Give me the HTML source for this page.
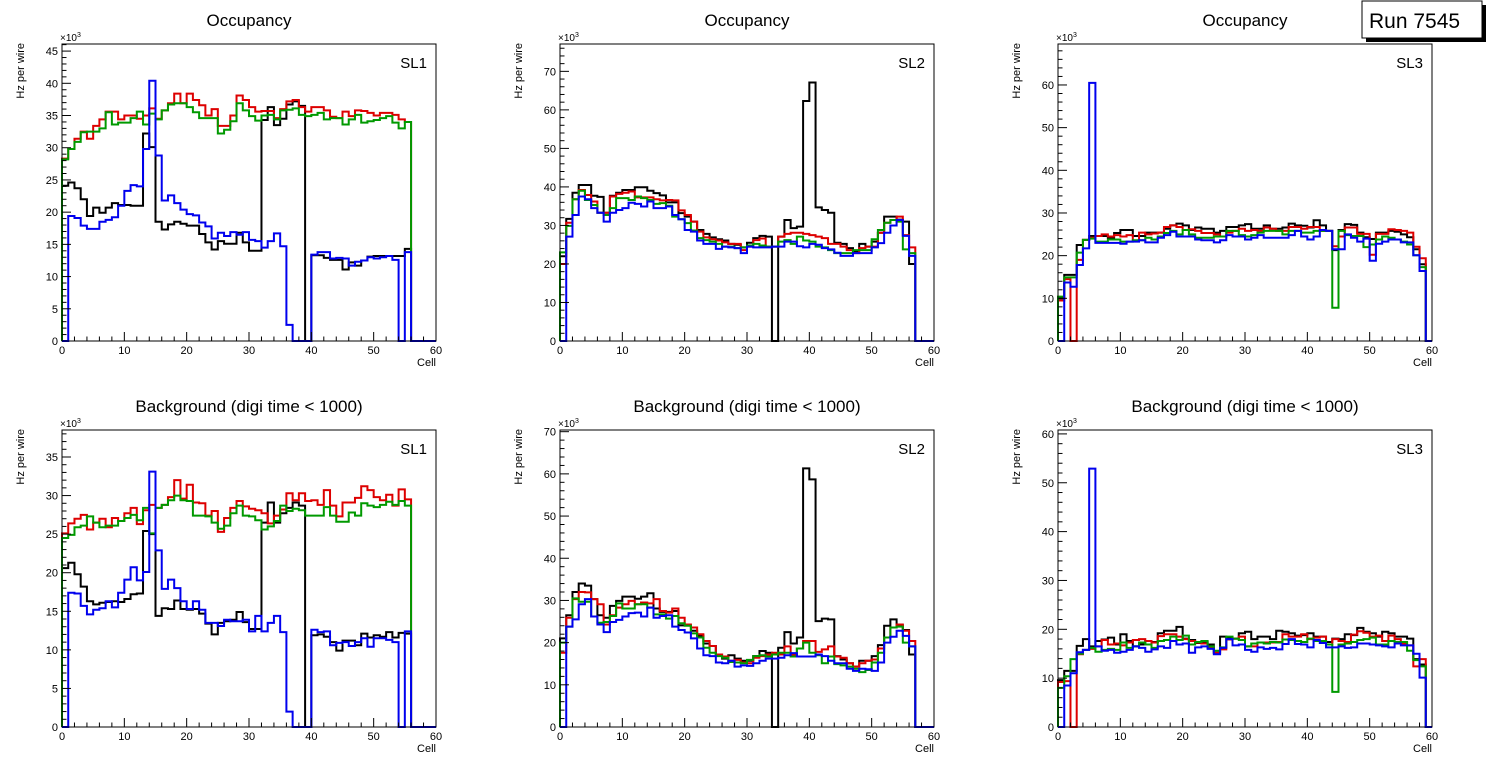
<!DOCTYPE html>
<html><head><meta charset="utf-8"><title>Occupancy</title>
<style>html,body{margin:0;padding:0;background:#fff;}svg{display:block;font-family:"Liberation Sans",Arial,sans-serif;}</style>
</head><body>
<svg id="chart" width="1496" height="772" viewBox="0 0 1496 772" xmlns="http://www.w3.org/2000/svg">
<rect x="0" y="0" width="1496" height="772" fill="#fff"/>
<g>
<rect x="1366" y="5" width="120" height="37" fill="#000"/>
<rect x="1362" y="1" width="120" height="37" fill="#fff" stroke="#000" stroke-width="1"/>
<text x="1369" y="28" font-size="21" fill="#000">Run 7545</text>
</g>
</svg>
<script>
// ---- data (values in units of 10^3 Hz per wire), bins of width 1 cell starting at 0 ----
const binCategories = [0,1,2,3,4,5,6,7,8,9,10,11,12,13,14,15,16,17,18,19,20,21,22,23,24,25,26,27,28,29,30,31,32,33,34,35,36,37,38,39,40,41,42,43,44,45,46,47,48,49,50,51,52,53,54,55,56,57,58,59];
const xTicks = [0,10,20,30,40,50,60];

const occSL1Black = [24.1,24.6,23.7,22,19.4,20.7,19.9,20.7,21.4,21.1,21.1,21,21,32.2,30.1,18.5,17.3,18.1,18.5,18.2,17.9,17.9,16.6,15.3,14.2,15.5,15.1,15.1,16.8,15.3,14,14,34.3,36.3,33.5,34.5,36.7,37.2,36.5,0,13.3,13.3,12.9,12.6,12.6,11.1,12.2,11.7,12.5,13.1,13.2,13.2,13.2,13.2,13.2,14.3];
const occSL1Red = [28.3,29.8,31.4,32.5,31.4,33.4,34.4,35.6,35.6,34.4,35,35,34.5,35,36.1,34.5,35.8,36.9,38.4,36.9,38.4,37.4,36.6,35,36,33.4,33.4,35,38.1,37.4,36.3,35.6,35.7,35.7,34.6,36,37.2,37.4,36.3,35.6,36.3,36.3,35.8,34.8,34.6,35.6,34.9,35.8,35.7,35.4,35,35.4,35.4,35.1,34.4,34];
const occSL1Green = [28.2,29.8,30.9,32.4,32.5,32.5,33,35.5,33.6,33.9,33.9,34.6,35.6,33.6,35.3,34.4,35.8,36.7,36.9,36.9,36.3,35.5,34.6,34.6,34.6,32.2,32.8,34.1,36.9,35.8,34.9,34.2,35,35.1,34.4,35.8,35.9,36.1,35.1,34.9,35.1,35.4,34.4,34.6,34.6,33.6,34.4,35.1,33.9,34.1,34.3,34.6,34.9,33.9,33,34];
const occSL1Blue = [0,19.4,19.1,17.9,17.4,17.4,18.5,18.8,19.2,21,23.3,24.2,24,29.8,40.4,28.8,21.8,22.6,21.4,20.4,19.7,19.5,18.4,17.8,15.9,16.8,16.3,16.9,16.5,16.9,15.7,15.5,14.5,15.5,16.7,14.7,2.5,0,0,0,13.4,13.8,13.8,12.8,12.9,12.8,11.7,12.3,12.5,13,12.8,13,13.2,12.6,0,13.8];

const occSL2Black = [22,31.7,38.5,40.5,40.5,37.7,37.4,33.3,37.7,38.5,39.2,39.2,39.9,39.9,39,38.4,37.8,36,36,33.2,32.3,31,28.8,27.8,26.9,26.4,26.1,25.2,25,24.3,25.5,26.7,27.3,27.1,0,27.1,31.4,29.3,29.7,62.3,67.1,34.7,34,33.3,25.5,25.2,24.1,23.2,25.2,24.5,25.8,28.1,32.3,32.3,31.5,31,20];
const occSL2Red = [20,30.7,36.8,39.2,37.9,36.2,33.3,33.3,37.5,38.2,38.5,38.8,37.3,37.3,37.3,36.8,36.5,36.6,36.5,33.9,32.7,31,28.4,26.9,26.4,26.1,25.6,25.2,25.2,23.6,24.5,26.2,26.6,24.5,24.5,27.1,27.8,28.1,28.1,27.8,27.5,27.1,26.7,25.2,25.2,24.5,23.6,22.8,24.1,24.5,24.5,28.1,30.7,31.4,32.3,27.5,24.3];
const occSL2Green = [23,29.9,36.8,39,36.6,35.3,33.3,32.7,34.5,37.1,37.1,36.6,37.5,37.1,36.6,35.6,35.8,35.1,32.3,31.6,30.6,28.7,26.7,26.2,25.8,25.2,24.5,24.5,24.1,24.3,24.8,25.2,24.8,24.5,24.5,25.8,26.2,25.2,27.1,26.1,25.8,24.5,24.3,23.6,22.8,22.8,22.8,23.6,23.6,23.6,26.4,28.8,30.7,31.4,31,23.8,22.8];
const occSL2Blue = [0,27.1,32.7,37.5,36.8,34.5,33.3,31,33.3,34,34.5,35.9,35.6,34.9,36.2,34.5,34.5,34.9,32.7,31.6,28.8,28.4,26.1,25.2,25.2,23.9,24.5,24.3,24.1,22.8,24.5,24.3,24.3,24.3,24.5,24.5,25.8,25.8,24.6,24.3,25.2,25,24.1,23.8,22.9,22.1,22.1,22.8,22.8,22.8,24.3,25.4,28.1,30,31.4,27.3,22.1];

const occSL3Black = [10,15.5,15.5,22.5,23.7,24.6,24.6,24.6,24.2,25.3,26,26,24.6,24.6,25.4,25.4,25.4,26.3,27.1,27.5,27.1,26,26.6,26.3,26.3,25.4,25.8,26.7,26.7,27.1,27.4,26.3,26.3,27.1,26.3,26.3,26.6,27.5,27.1,27,26.6,28.3,27.1,25.8,21.3,26,27.4,27.2,25.4,24.3,23.9,25.4,25.4,25.8,25.6,25,24.3,21.5,18,0];
const occSL3Red = [9.5,14.5,0,19,23.7,24.2,24.6,25,24.5,24.8,24.5,24.8,23.5,25.4,25,25.2,25.4,26.7,27.1,26.7,26,26.2,25.8,25.3,25.3,25,24.5,25.4,25.8,26.3,25.8,26,25.8,26.6,26.3,25.8,25.8,26.7,26.7,26.3,26.7,26.7,25.8,25.8,22.2,24.5,26.6,26.6,25.1,25.1,20.2,25.1,25.1,26.2,26,25.8,25.4,22.1,19.4,0];
const occSL3Green = [10.4,14.9,14.9,20.7,23.7,24,23.3,23.3,23.8,23.8,23.3,23.3,23.6,23.6,24.2,23.8,24.5,25.3,25.8,25,26,25,24.2,24.2,24.2,24.5,24.5,25.8,25.8,24.8,24.5,24.8,25.4,25.8,25.8,25.8,25,25.8,25.8,25.4,25.4,25.8,25.8,25.8,7.8,25.8,24.8,24.6,24.6,22,22.6,23.8,24.5,24.2,23.8,23.3,22.6,20.1,17.3,0];
const occSL3Blue = [0,13.7,12.7,17.8,21.7,60.5,23,23,23,23,22.8,23.3,23.3,23.6,23.1,23.1,24.2,24.8,25.6,24.5,24.5,24.5,23.8,23.6,23.6,23.1,23.6,24.8,24.5,24.5,23.8,24.2,24.8,24.2,24.2,24.2,24.2,24.8,25.8,24.5,23.8,24.5,26,25.8,21.5,21.5,25,24.2,23.3,24,18.8,22.8,23.3,23.8,23.8,23.1,23.1,20.1,16.4,0];

const bkgSL1Black = [20.6,21.3,19.8,18.2,16.3,15.9,16.1,16.2,16.3,16.2,16.6,17.2,17.3,25.4,25,14.4,15.4,15.3,16.4,15.3,15.2,15.3,14.7,13.4,12,13.5,13.7,13.9,14.9,13.6,12.7,12.7,26.5,29.1,26.5,27.7,28.4,29.1,28.7,0,11.9,12,11.7,11,9.9,11.2,11.2,10.6,12.1,11.6,11.9,11.7,12.3,11.6,12.2,12.1];
const bkgSL1Red = [25.1,26.4,27,27.5,25.6,26.5,27,25.9,27.1,26.7,27.7,28.4,26.3,28.1,28.8,28.4,28.8,29.8,32,29.6,31.4,29.1,29,27.4,28,25.3,27.1,28.4,29.3,28.6,28.3,28.1,27.7,26.4,27.4,28.2,30.3,29.4,30.3,29.3,29.4,28.8,30.7,28.7,27.3,29.1,29.1,29.7,31.2,30.7,29.8,29.4,30.1,28.7,30.8,29.5];
const bkgSL1Green = [24.5,24.9,25.9,26.1,27.3,26.5,25.9,26.1,26.1,26.7,27.1,27.5,26.8,28.4,25.1,28.4,28.8,29.4,30,29.4,29.3,27.4,27.4,27.3,26.5,25.7,26.1,27.7,28.7,27.4,27.3,26.8,25.6,26,26.7,28.7,28,28.3,28.1,27.4,27.4,27.4,28.5,27.4,26.6,26.6,27.8,27.4,29,28.7,28.5,28.8,29.2,28.8,29.3,28.7];
const bkgSL1Blue = [0,17.4,17.3,15.7,14.6,15.2,15.4,16.3,15.5,17.4,19.1,20.7,19,20.1,33.1,22.9,17.9,19.1,18,16.3,15.3,16.3,15.2,13.5,13.5,13.1,13.9,13.7,13.7,13.9,12.4,14.4,12.4,13.5,14.4,12.3,2,0,0,0,12.6,12.3,12.4,10.6,10.9,11,10.5,11,11.5,10.4,11.5,11.5,11.3,11,0,12.4];

const bkgSL2Black = [21,26.5,32,34,33.5,30.3,26.5,25.9,28.7,29.9,30.9,30.9,30.4,30.9,31.7,28.1,27.3,27.3,27.5,24.1,24.1,22.8,21.7,19.8,19.2,17.2,16.2,17,16.2,15.7,15.7,16.8,18,17.6,0,18.8,22.5,19.8,21.2,61.3,58.7,25.1,25.7,25.5,16.8,16,15.1,14.3,15.7,15.7,16.8,19.4,24,25.5,24.1,23,17.2];
const bkgSL2Red = [17.6,25.9,30.3,32,31.9,30.3,29.1,24.3,26.5,28.3,29.1,29.9,29.1,29.5,29.3,30.3,27.5,27.1,28.1,25.9,24.3,23.6,22,20.4,19.2,17.2,16.7,15.7,15.9,15.3,15.1,16.4,16.8,17.2,17.6,17.2,19.1,17.2,18.6,20.4,20.4,17.8,18.4,19.1,16.7,16.4,15.1,14.3,15.1,15.7,16,18.6,21.2,23.6,24.3,22.8,20.4];
const bkgSL2Green = [20,23.8,30.5,29.7,29.7,26.2,24.7,24.9,26.3,29.3,28.1,28.1,29.1,29.1,28.3,26.7,26.7,25.7,26.3,24.6,24,22.2,21.2,18.8,17.6,16.8,16.4,15.4,15.3,15.1,15.9,16.8,17,16.7,17.2,17.6,17.6,16.7,18.6,20,17.6,17,15.1,16.7,14.9,14.6,14.3,13.8,13,13.5,15.3,17.6,21.2,23.6,23.8,20,19.1];
const bkgSL2Blue = [0,23.8,25.5,29.1,30.3,26.2,24.3,22.5,24.9,25.4,26.2,27,27.1,26.2,28.3,25.9,26.3,26.5,23.8,23,22.4,21,18.6,17,16.8,15.3,15.1,15.7,14.3,14.6,14.5,15.1,15.7,16.2,16.2,16.4,17,17.5,16.7,16.7,16.7,17.2,16.8,15.7,15.1,15.1,13.8,13.3,13.8,13.7,13.3,15.3,20,21.4,22.8,21.6,19.1];

const bkgSL3Black = [9.6,11.5,11.5,16.6,18,16.5,17.6,17.9,18.3,16.9,19,17.6,16.5,16.9,17.6,17.4,19.2,19.7,19.7,20.5,18.1,17.8,17.2,17.4,16.9,15.2,18.5,18.3,18.1,19.2,19.5,18,18.5,18.5,18,19.7,19.5,19.2,18.7,18.8,19.2,18.5,18.5,17.4,18.1,18,19,18.8,20.3,19.5,19.2,18.5,19.5,19.2,18.5,18.5,18.1,13.9,12.8,0];
const bkgSL3Red = [9.2,9.4,0,14.9,15.8,16,16.5,17.8,16.9,17.1,16.7,17.3,17.8,18,17.6,17.3,18.6,19,19,18.5,18,17.6,17.3,17.1,16.2,15.2,15.9,17.9,18.1,18.5,16.5,16.5,17.3,17.3,17.3,17.4,19,18.5,18.5,19,18,18.3,18.5,16.9,18,17.6,17.4,18.9,19.6,19.3,18.5,18.7,17.6,18.7,18,17.1,16.7,12.4,13.9,0];
const bkgSL3Green = [8,10.4,13.9,15,15.8,16.2,15.4,15.8,16,15.8,17.3,16.2,16.5,17.3,16.9,16.2,17.6,17.8,18.5,17.8,18.7,16.9,17.4,17.6,16.5,15.6,16.3,18.5,18.1,17.8,16.5,17.1,17.3,17.1,17.4,17.3,17.9,17.8,17.6,17.4,18.1,17.6,17.6,16.9,7.2,16.9,17.1,17.4,17.8,18,18.3,16.9,16.9,17.6,17.4,17.4,15.6,13.7,12.4,0];
const bkgSL3Blue = [0,8.5,11,15.3,15.8,52.9,16.5,15.6,15.8,15.2,15.4,15.8,16.5,16.2,15.4,15.9,16.5,16.2,17.6,16.9,17.1,15.2,16.3,16.5,16,14.9,16.2,18,16.7,16.9,15.8,15.4,16.3,16,16.2,15.9,17,18,17,16.9,16.3,17.8,17.2,16.3,16.3,16.5,16.2,16.3,17.1,17.1,16.9,16.7,16.5,16.3,17.1,16.7,16.7,15,10.1,0];

const panelTitles = ["Occupancy","Occupancy","Occupancy","Background (digi time < 1000)","Background (digi time < 1000)","Background (digi time < 1000)"];
const panelLabels = ["SL1","SL2","SL3","SL1","SL2","SL3"];
const panelYMax = [46.1,77.1,69.6,38.5,70.4,60.8];
const panelYMajor = [5,10,10,5,10,10];
const panelSeries = [
  [occSL1Black,occSL1Red,occSL1Green,occSL1Blue],
  [occSL2Black,occSL2Red,occSL2Green,occSL2Blue],
  [occSL3Black,occSL3Red,occSL3Green,occSL3Blue],
  [bkgSL1Black,bkgSL1Red,bkgSL1Green,bkgSL1Blue],
  [bkgSL2Black,bkgSL2Red,bkgSL2Green,bkgSL2Blue],
  [bkgSL3Black,bkgSL3Red,bkgSL3Green,bkgSL3Blue]
];
const seriesNames = ["black","red","green","blue"];

// ---- layout / style ----
const seriesColors = ["#000000","#dd0000","#009900","#0000ee"];
const NS = "http://www.w3.org/2000/svg";
const svg = document.getElementById("chart");
const runBox = svg.lastElementChild;
const PW = 374, PH = 297, XMAX = 60;
const lefts = [62,560,1058];
const tops = [44,430];

function mk(tag, attrs, parent){
  const e = document.createElementNS(NS, tag);
  for (const k in attrs) e.setAttribute(k, attrs[k]);
  (parent||svg).appendChild(e);
  return e;
}

panelSeries.forEach((series, p) => {
  const L = lefts[p % 3], T = tops[Math.floor(p / 3)], B = T + PH;
  const ymax = panelYMax[p], major = panelYMajor[p], minor = major / 5;
  const xs = v => L + v / XMAX * PW;
  const ys = v => B - v / ymax * PH;
  const g = mk("g", {});
  
  

  const title = mk("text", {x: L + PW / 2, y: T - 18, "font-size": 17, "text-anchor": "middle"}, g);
  title.textContent = panelTitles[p];
  
  

  series.forEach((vals, s) => {
    let d = "M" + xs(0) + "," + ys(0);
    for (let i = 0; i < binCategories.length; i++) {
      const v = i < vals.length ? vals[i] : 0;
      d += " L" + xs(binCategories[i]).toFixed(2) + "," + ys(v).toFixed(2) + " L" + xs(binCategories[i] + 1).toFixed(2) + "," + ys(v).toFixed(2);
    }
    d += " L" + xs(XMAX) + "," + ys(0);
    const path = mk("path", {d: d, fill: "none", stroke: seriesColors[s], "stroke-width": 2, "stroke-linejoin": "miter"}, g);
    
    
  });

  const frame = mk("rect", {x: L, y: T, width: PW, height: PH, fill: "none", stroke: "#000", "stroke-width": 1}, g);
  
  

  const xAxis = mk("g", {}, g);
  
  
  for (let v = 0; v <= XMAX + 1e-9; v += 2) {
    const isMajor = Math.abs(v % 10) < 1e-9;
    mk("line", {x1: xs(v), x2: xs(v), y1: B, y2: B - (isMajor ? 9 : 4.5), stroke: "#000", "stroke-width": 1}, xAxis);
  }
  xTicks.forEach(v => {
    const t = mk("text", {x: xs(v), y: B + 13, "font-size": 11, "text-anchor": "middle"}, xAxis);
    t.textContent = v;
    
    
  });
  const xt = mk("text", {x: L + PW, y: B + 25, "font-size": 11, "text-anchor": "end"}, xAxis);
  xt.textContent = "Cell";
  
  

  const yAxis = mk("g", {}, g);
  
  
  for (let k = 0; k * minor <= ymax + 1e-9; k++) {
    const v = k * minor, isMajor = k % 5 === 0;
    mk("line", {x1: L, x2: L + (isMajor ? 9 : 4.5), y1: ys(v), y2: ys(v), stroke: "#000", "stroke-width": 1}, yAxis);
    if (isMajor) {
      const t = mk("text", {x: L - 4, y: ys(v) + 4, "font-size": 11, "text-anchor": "end"}, yAxis);
      t.textContent = v;
      
      
    }
  }
  const ex = mk("text", {x: L - 2, y: T - 3, "font-size": 10}, yAxis);
  ex.textContent = "\u00d710";
  const sup = mk("tspan", {dy: -4, "font-size": 7}, ex);
  sup.textContent = "3";
  
  
  const yt = mk("text", {transform: "translate(" + (L - 38) + "," + (T - 1) + ") rotate(-90)", "font-size": 11, "text-anchor": "end"}, yAxis);
  yt.textContent = "Hz per wire";
  
  

  const sl = mk("text", {x: L + PW - 9, y: T + 24, "font-size": 15, "text-anchor": "end"}, g);
  sl.textContent = panelLabels[p];
  
  
});
svg.appendChild(runBox);
</script>
</body></html>
